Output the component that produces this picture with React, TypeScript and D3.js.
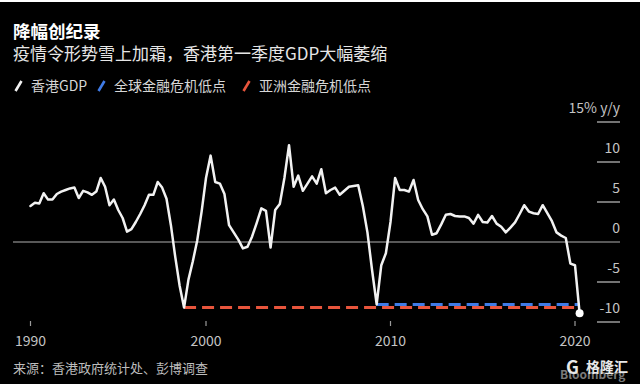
import React from "react";
import * as d3 from "d3";

// Hong Kong real GDP, y/y %, quarterly (first value plotted at 1990.0, last = 2020 Q1)
const gdp: number[] = [
  4.5, 4.9, 4.8, 6.1, 5.3, 5.3, 6.0, 6.3, 6.5, 6.7,
  6.8, 5.5, 6.4, 6.2, 5.9, 6.3, 8.0, 6.9, 4.6, 5.3,
  4.0, 3.0, 1.3, 1.6, 2.5, 3.5, 4.6, 5.9, 5.9, 7.5,
  6.8, 5.4, 2.1, -1.9, -5.5, -8.2, -4.7, -2.4, 0.2, 3.8,
  8.0, 10.8, 7.5, 7.3, 6.0, 2.1, 1.2, 0.3, -0.8, -0.6,
  0.7, 2.4, 4.2, 3.9, -0.7, 4.0, 4.75, 8.0, 12.1, 6.9,
  8.3, 6.4, 7.3, 8.2, 7.3, 9.1, 6.1, 6.5, 6.8, 5.9,
  6.4, 6.9, 7.0, 7.1, 4.5, 1.2, -3.5, -7.8, -2.9, -1.4,
  2.5, 8.0, 6.5, 6.5, 6.3, 7.75, 5.25, 4.1, 3.2, 0.9,
  1.1, 2.2, 3.4, 3.5, 3.25, 3.2, 3.2, 3.0, 2.3, 3.4,
  2.5, 2.45, 3.25, 2.3, 1.9, 1.2, 1.8, 2.45, 3.5, 4.6,
  3.8, 3.6, 3.5, 4.6, 3.6, 2.6, 1.2, 0.8, 0.5, -2.7,
  -2.9, -8.9,
];
const startYear = 1990;
const gfcLowIndex = 77; // 2009 Q1
const gfcLow = -7.8;
const asiaLowIndex = 35; // 1998
const asiaLow = -8.2;

const xTicks: number[] = [1990, 2000, 2010, 2020];
const yTicks: number[] = [15, 10, 5, 0, -5, -10];
const yTickLabels: string[] = ["15% y/y", "10", "5", "0", "-5", "-10"];

const legendLabels: string[] = ["香港GDP", "全球金融危机低点", "亚洲金融危机低点"];
const legendColors: string[] = ["#f2f2f2", "#3f7be6", "#e8553c"];

const title = "降幅创纪录";
const subtitle = "疫情令形势雪上加霜，香港第一季度GDP大幅萎缩";
const source = "来源：香港政府统计处、彭博调查";

const W = 640;
const H = 384;
const FONT = "'Noto Sans CJK SC', 'Noto Sans', sans-serif";

export default function App() {
  const x = d3.scaleLinear().domain([1990, 2000, 2020]).range([30.5, 206, 575]);
  const y = d3.scaleLinear().domain([-10, 15]).range([322, 122]);
  const t = (k: number) => startYear + k / 4;

  const line = d3
    .line<number>()
    .x((_, i) => x(t(i)))
    .y((d) => y(d));

  const lastK = gdp.length - 1;
  const legendX = [15, 98, 243];

  return (
    <svg
      width={W}
      height={H}
      style={{ position: "absolute", left: 0, top: 0, background: "#fff" }}
      fontFamily={FONT}
    >
      <rect x={0} y={2} width={W} height={H - 2} fill="#000" />

      <text x={13} y={37.5} fill="#ffffff" fontSize={17.5} fontWeight="bold">
        {title}
      </text>
      <text x={13} y={59.5} fill="#e6e6e6" fontSize={17}>
        {subtitle}
      </text>

      {legendLabels.map((lab, i) => (
        <g key={lab}>
          <line
            x1={legendX[i] + 0.5}
            y1={91}
            x2={legendX[i] + 6.5}
            y2={81}
            stroke={legendColors[i]}
            strokeWidth={2.6}
          />
          <text x={legendX[i] + 16} y={90.5} fill="#d6d6d6" fontSize={14}>
            {lab}
          </text>
        </g>
      ))}

      {/* zero line */}
      <line x1={13} x2={620} y1={y(0)} y2={y(0)} stroke="#b0b0b0" strokeWidth={1.2} />

      {/* right axis */}
      {yTicks.map((v, i) => (
        <g key={v}>
          {v !== 0 && (
            <line x1={597} x2={620} y1={y(v)} y2={y(v)} stroke="#9a9a9a" strokeWidth={1.5} />
          )}
          <text
            x={620}
            y={y(v) - 9}
            textAnchor="end"
            fill="#c4c4c4"
            fontSize={14}
          >
            {yTickLabels[i]}
          </text>
        </g>
      ))}

      {/* x axis */}
      {xTicks.map((yr) => (
        <g key={yr}>
          <line x1={x(yr)} x2={x(yr)} y1={321} y2={326} stroke="#9a9a9a" strokeWidth={1.2} />
          <text x={x(yr)} y={346} textAnchor="middle" fill="#c4c4c4" fontSize={14}>
            {yr}
          </text>
        </g>
      ))}

      {/* crisis lows */}
      <line
        x1={x(t(asiaLowIndex))}
        x2={x(t(lastK))}
        y1={y(asiaLow)}
        y2={y(asiaLow)}
        stroke={legendColors[2]}
        strokeWidth={3}
        strokeDasharray="12,6"
      />
      <line
        x1={x(t(gfcLowIndex))}
        x2={x(t(lastK))}
        y1={y(gfcLow)}
        y2={y(gfcLow)}
        stroke={legendColors[1]}
        strokeWidth={3}
        strokeDasharray="12,6"
      />

      <path
        d={line(gdp) || ""}
        fill="none"
        stroke={legendColors[0]}
        strokeWidth={2.5}
        strokeLinejoin="round"
        strokeLinecap="round"
      />
      <circle cx={x(t(lastK))} cy={y(gdp[lastK])} r={4} fill="#ffffff" />

      <text x={13} y={372.5} fill="#bdbdbd" fontSize={13}>
        {source}
      </text>

      {/* watermark */}
      <text x={560} y={379} fill="#7a7a7a" fontSize={12} fontWeight="bold">
        Bloomberg
      </text>
      <text x={566} y={374} fill="#e8e8e8" fontSize={18} fontWeight="bold">
        G
      </text>
      <text x={586} y={372} fill="#e8e8e8" fontSize={14} fontWeight="bold">
        格隆汇
      </text>
    </svg>
  );
}
